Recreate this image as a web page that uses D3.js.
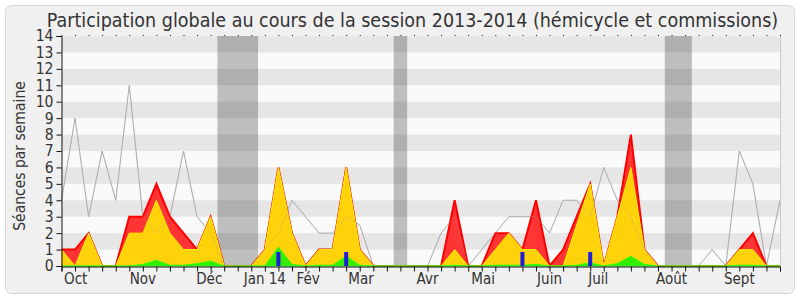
<!DOCTYPE html>
<html>
<head>
<meta charset="utf-8">
<script src="https://cdn.jsdelivr.net/npm/d3@7/dist/d3.min.js"></script>
<style>
  body { margin: 0; background: #fff; }
  svg { display: block; }
  text { font-family: "DejaVu Sans Condensed", "DejaVu Sans", sans-serif; fill: #333; }
</style>
</head>
<body>
<div id="chart"></div>
<script>
// one value per week, Oct 2013 -> Sept 2014
const weeks = d3.range(54);
const presences = [1, 1, 2, 0, 0, 3, 3, 5, 3, 2, 1, 3, 0, 0, 0, 1, 6, 2, 0, 1, 1, 6, 1, 0, 0, 0, 0, 0, 0, 4, 0, 0, 2, 2, 1, 4, 0, 1, 3, 5, 0, 3, 8, 1, 0, 0, 0, 0, 0, 0, 1, 2, 0, 0];
const participations = [1, 0, 2, 0, 0, 2, 2, 4, 2, 1, 1, 3, 0, 0, 0, 1, 6, 2, 0, 1, 1, 6, 1, 0, 0, 0, 0, 0, 0, 1, 0, 0, 1, 2, 1, 1, 0, 0, 2.5, 5, 0, 3, 6, 1, 0, 0, 0, 0, 0, 0, 1, 1, 0, 0];
const interventions = [0, 0, 0, 0, 0, 0, 0.1, 0.35, 0.05, 0.05, 0.15, 0.3, 0, 0, 0, 0, 1.15, 0.1, 0, 0.05, 0.05, 0.6, 0.05, 0, 0, 0, 0, 0, 0, 0.05, 0, 0, 0.05, 0.05, 0.05, 0.1, 0, 0, 0.05, 0.2, 0, 0.15, 0.6, 0.1, 0, 0, 0, 0, 0, 0, 0.05, 0.05, 0, 0];
const mediane = [4, 9, 3, 7, 4, 11, 3, 2, 3, 7, 3, 2, 0, 0, 0, 1, 2, 4, 3, 2, 2, 3, 2.5, 0, 0, 0, 0, 0, 2, 3, 0, 1, 2, 3, 3, 3, 2, 4, 4, 3, 6, 4, 3, 1, 0, 0, 0, 0, 1, 0, 7, 5, 0, 4];
const questionWeeks = [16, 21, 34, 39];
const questionValues = [0.85, 0.85, 0.85, 0.85];
const vacances = [[11.5, 14.5], [24.5, 25.5], [44.5, 46.5]];
const months = ['Oct', 'Nov', 'Déc', 'Jan 14', 'Fév', 'Mar', 'Avr', 'Mai', 'Juin', 'Juil', 'Août', 'Sept'];
const monthWeeks = [1.05, 6, 10.9, 15, 18.2, 22.1, 27, 31.1, 36, 39.6, 45, 50];
const yTicks = d3.range(0, 15);

const width = 800;
const height = 300;
const margin = { top: 36, right: 20, bottom: 34, left: 61.5 };

const svg = d3.select('#chart').append('svg')
  .attr('width', width)
  .attr('height', height);

svg.append('rect')
  .attr('x', 5.5).attr('y', 5.5)
  .attr('width', 789).attr('height', 288)
  .attr('rx', 6)
  .attr('fill', '#f0f0f0')
  .attr('stroke', '#d6d6d6');

const x = d3.scaleLinear().domain([0, 53]).range([margin.left, width - margin.right]);
const y = d3.scaleLinear().domain([0, 14]).range([height - margin.bottom, margin.top]);

const plot = svg.append('g');

plot.append('rect')
  .attr('x', x(0)).attr('y', y(14))
  .attr('width', x(53) - x(0)).attr('height', y(0) - y(14))
  .attr('fill', '#fafafa');

plot.selectAll('.vac')
  .data(vacances)
  .enter().append('rect')
  .attr('x', d => x(d[0]))
  .attr('y', y(14))
  .attr('width', d => x(d[1]) - x(d[0]))
  .attr('height', y(0) - y(14))
  .attr('fill', '#bebebe');

plot.selectAll('.band')
  .data(yTicks.filter(v => v % 2 === 1))
  .enter().append('rect')
  .attr('x', x(0))
  .attr('y', d => y(d + 1))
  .attr('width', x(53) - x(0))
  .attr('height', d => y(d) - y(d + 1))
  .attr('fill', '#000')
  .attr('fill-opacity', 0.08);

const line = vals => d3.line().x((d, i) => x(i)).y(d => y(d))(vals);
const area = vals => d3.area().x((d, i) => x(i)).y0(y(0)).y1(d => y(d))(vals);

plot.append('path')
  .attr('d', line(mediane))
  .attr('fill', 'none')
  .attr('stroke', '#b4b4b4');

plot.append('path')
  .attr('d', area(presences))
  .attr('fill', '#ff3434');
plot.append('path')
  .attr('d', line(presences))
  .attr('fill', 'none')
  .attr('stroke', '#ff0000')
  .attr('stroke-width', 2);

plot.append('path')
  .attr('d', area(participations))
  .attr('fill', '#ffd20a');
plot.append('path')
  .attr('d', line(participations))
  .attr('fill', 'none')
  .attr('stroke', '#ffee00');

plot.append('path')
  .attr('d', area(interventions))
  .attr('fill', '#33ee00')
  .attr('stroke', '#22ff00')
  .attr('stroke-width', 0.8);

plot.selectAll('.question')
  .data(questionWeeks)
  .enter().append('rect')
  .attr('x', d => x(d) - 2)
  .attr('y', (d, i) => y(questionValues[i]))
  .attr('width', 4)
  .attr('height', (d, i) => y(0) - y(questionValues[i]))
  .attr('fill', '#1e1ed8');

// the median line shows faintly through the areas
plot.append('path')
  .attr('d', line(mediane))
  .attr('fill', 'none')
  .attr('stroke', '#a0a0a0')
  .attr('stroke-opacity', 0.3);

// right border
svg.append('line')
  .attr('x1', x(53) + 0.5).attr('x2', x(53) + 0.5)
  .attr('y1', y(14)).attr('y2', y(0))
  .attr('stroke', '#c8c8c8');

// axes
const yAxis = svg.append('g')
  .attr('transform', `translate(${margin.left},0)`)
  .call(d3.axisLeft(y).tickValues(yTicks).tickSize(5).tickPadding(3));
yAxis.selectAll('text').style('font-size', '15.5px').attr('fill', '#333');

const xAxis = svg.append('g')
  .attr('transform', `translate(0,${y(0) + 0.5})`)
  .call(d3.axisBottom(x).tickValues(weeks).tickFormat('').tickSize(5));

const topDots = svg.append('g')
  .attr('transform', `translate(0,${y(14)})`)
  .call(d3.axisTop(x).tickValues(weeks).tickFormat('').tickSize(1));
topDots.select('.domain').remove();

svg.selectAll('.domain, .tick line').attr('stroke', '#111');

svg.selectAll('.month')
  .data(months)
  .enter().append('text')
  .attr('x', (d, i) => x(monthWeeks[i]))
  .attr('y', 284)
  .attr('text-anchor', 'middle')
  .style('font-size', '15px')
  .text(d => d);

svg.append('text')
  .attr('transform', 'translate(25,156) rotate(-90)')
  .attr('text-anchor', 'middle')
  .style('font-size', '15.5px')
  .text('Séances par semaine');

svg.append('text')
  .attr('x', 412.5)
  .attr('y', 27)
  .attr('text-anchor', 'middle')
  .style('font-size', '19.5px')
  .text('Participation globale au cours de la session 2013-2014 (hémicycle et commissions)');
</script>
</body>
</html>
